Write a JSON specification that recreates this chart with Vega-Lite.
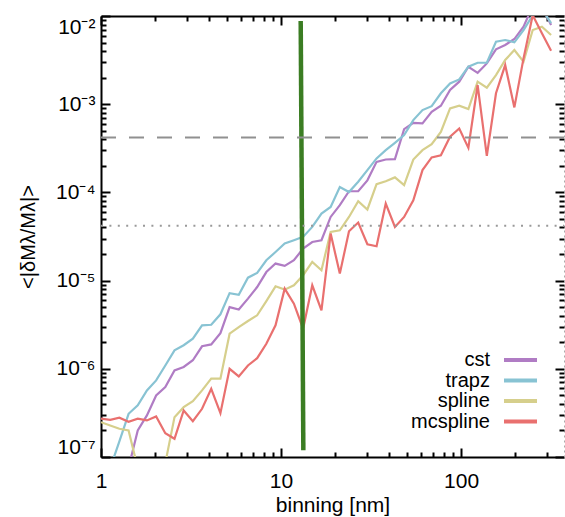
{
  "$schema": "https://vega.github.io/schema/vega-lite/v6.json",
  "width": 463,
  "height": 441,
  "autosize": {"type": "none"},
  "padding": {"left": 101, "top": 16, "right": 1, "bottom": 60},
  "config": {
    "view": {"stroke": null},
    "font": "Liberation Sans",
    "axis": {
      "grid": false,
      "domainColor": "black",
      "domainWidth": 2,
      "tickColor": "black",
      "tickWidth": 2,
      "labelFont": "Liberation Sans",
      "labelFontSize": 21,
      "labelColor": "black",
      "titleFont": "Liberation Sans",
      "titleFontSize": 21,
      "titleFontWeight": "normal",
      "titleColor": "black",
      "labelOverlap": false
    }
  },
  "datasets": {
    "series": [
      {"binning": 1, "method": "cst", "err": 2e-8},
      {"binning": 1.125, "method": "cst", "err": 2.5e-8},
      {"binning": 1.265, "method": "cst", "err": 3.5e-8},
      {"binning": 1.423, "method": "cst", "err": 7.6e-8},
      {"binning": 1.6, "method": "cst", "err": 2.0e-7},
      {"binning": 1.799, "method": "cst", "err": 2.96e-7},
      {"binning": 2.024, "method": "cst", "err": 4.99e-7},
      {"binning": 2.276, "method": "cst", "err": 6.2e-7},
      {"binning": 2.56, "method": "cst", "err": 9.6e-7},
      {"binning": 2.879, "method": "cst", "err": 1.05e-6},
      {"binning": 3.237, "method": "cst", "err": 1.25e-6},
      {"binning": 3.641, "method": "cst", "err": 1.8e-6},
      {"binning": 4.095, "method": "cst", "err": 1.89e-6},
      {"binning": 4.606, "method": "cst", "err": 2.54e-6},
      {"binning": 5.18, "method": "cst", "err": 5.0e-6},
      {"binning": 5.825, "method": "cst", "err": 4.7e-6},
      {"binning": 6.551, "method": "cst", "err": 6.25e-6},
      {"binning": 7.368, "method": "cst", "err": 8.46e-6},
      {"binning": 8.286, "method": "cst", "err": 1.25e-5},
      {"binning": 9.32, "method": "cst", "err": 1.56e-5},
      {"binning": 10.48, "method": "cst", "err": 1.47e-5},
      {"binning": 11.79, "method": "cst", "err": 1.7e-5},
      {"binning": 13.26, "method": "cst", "err": 2.31e-5},
      {"binning": 14.91, "method": "cst", "err": 2.74e-5},
      {"binning": 16.77, "method": "cst", "err": 2.87e-5},
      {"binning": 18.86, "method": "cst", "err": 5.27e-5},
      {"binning": 21.21, "method": "cst", "err": 7.16e-5},
      {"binning": 23.85, "method": "cst", "err": 1.03e-4},
      {"binning": 26.83, "method": "cst", "err": 1.03e-4},
      {"binning": 30.17, "method": "cst", "err": 1.37e-4},
      {"binning": 33.93, "method": "cst", "err": 2.22e-4},
      {"binning": 38.16, "method": "cst", "err": 2.36e-4},
      {"binning": 42.92, "method": "cst", "err": 2.38e-4},
      {"binning": 48.27, "method": "cst", "err": 5.21e-4},
      {"binning": 54.29, "method": "cst", "err": 6.15e-4},
      {"binning": 61.05, "method": "cst", "err": 6.05e-4},
      {"binning": 68.66, "method": "cst", "err": 8.2e-4},
      {"binning": 77.23, "method": "cst", "err": 9.6e-4},
      {"binning": 86.86, "method": "cst", "err": 1.45e-3},
      {"binning": 97.68, "method": "cst", "err": 1.8e-3},
      {"binning": 109.8, "method": "cst", "err": 2.66e-3},
      {"binning": 123.6, "method": "cst", "err": 2.27e-3},
      {"binning": 139, "method": "cst", "err": 2.9e-3},
      {"binning": 156.3, "method": "cst", "err": 4.19e-3},
      {"binning": 175.8, "method": "cst", "err": 4.69e-3},
      {"binning": 197.7, "method": "cst", "err": 5.48e-3},
      {"binning": 222.3, "method": "cst", "err": 7.57e-3},
      {"binning": 250, "method": "cst", "err": 1.3e-2},
      {"binning": 281.2, "method": "cst", "err": 1.28e-2},
      {"binning": 316.2, "method": "cst", "err": 7.9e-3},

      {"binning": 1, "method": "trapz", "err": 4e-8},
      {"binning": 1.125, "method": "trapz", "err": 7.5e-8},
      {"binning": 1.265, "method": "trapz", "err": 1.5e-7},
      {"binning": 1.423, "method": "trapz", "err": 3.09e-7},
      {"binning": 1.6, "method": "trapz", "err": 3.85e-7},
      {"binning": 1.799, "method": "trapz", "err": 5.69e-7},
      {"binning": 2.024, "method": "trapz", "err": 7.38e-7},
      {"binning": 2.276, "method": "trapz", "err": 1.09e-6},
      {"binning": 2.56, "method": "trapz", "err": 1.62e-6},
      {"binning": 2.879, "method": "trapz", "err": 1.85e-6},
      {"binning": 3.237, "method": "trapz", "err": 2.2e-6},
      {"binning": 3.641, "method": "trapz", "err": 3.11e-6},
      {"binning": 4.095, "method": "trapz", "err": 3.16e-6},
      {"binning": 4.606, "method": "trapz", "err": 4.15e-6},
      {"binning": 5.18, "method": "trapz", "err": 7.2e-6},
      {"binning": 5.825, "method": "trapz", "err": 6.9e-6},
      {"binning": 6.551, "method": "trapz", "err": 1.08e-5},
      {"binning": 7.368, "method": "trapz", "err": 1.22e-5},
      {"binning": 8.286, "method": "trapz", "err": 1.7e-5},
      {"binning": 9.32, "method": "trapz", "err": 2.11e-5},
      {"binning": 10.48, "method": "trapz", "err": 2.63e-5},
      {"binning": 11.79, "method": "trapz", "err": 2.87e-5},
      {"binning": 13.26, "method": "trapz", "err": 3.13e-5},
      {"binning": 14.91, "method": "trapz", "err": 4.06e-5},
      {"binning": 16.77, "method": "trapz", "err": 5.76e-5},
      {"binning": 18.86, "method": "trapz", "err": 6.84e-5},
      {"binning": 21.21, "method": "trapz", "err": 1.15e-4},
      {"binning": 23.85, "method": "trapz", "err": 1.01e-4},
      {"binning": 26.83, "method": "trapz", "err": 1.32e-4},
      {"binning": 30.17, "method": "trapz", "err": 1.79e-4},
      {"binning": 33.93, "method": "trapz", "err": 2.43e-4},
      {"binning": 38.16, "method": "trapz", "err": 3.01e-4},
      {"binning": 42.92, "method": "trapz", "err": 3.65e-4},
      {"binning": 48.27, "method": "trapz", "err": 4.46e-4},
      {"binning": 54.29, "method": "trapz", "err": 6.6e-4},
      {"binning": 61.05, "method": "trapz", "err": 8.57e-4},
      {"binning": 68.66, "method": "trapz", "err": 9.5e-4},
      {"binning": 77.23, "method": "trapz", "err": 1.33e-3},
      {"binning": 86.86, "method": "trapz", "err": 1.72e-3},
      {"binning": 97.68, "method": "trapz", "err": 1.91e-3},
      {"binning": 109.8, "method": "trapz", "err": 2.66e-3},
      {"binning": 123.6, "method": "trapz", "err": 2.95e-3},
      {"binning": 139, "method": "trapz", "err": 2.95e-3},
      {"binning": 156.3, "method": "trapz", "err": 5.1e-3},
      {"binning": 175.8, "method": "trapz", "err": 5.34e-3},
      {"binning": 197.7, "method": "trapz", "err": 5.03e-3},
      {"binning": 222.3, "method": "trapz", "err": 6.93e-3},
      {"binning": 250, "method": "trapz", "err": 1.02e-2},
      {"binning": 281.2, "method": "trapz", "err": 1.2e-2},
      {"binning": 316.2, "method": "trapz", "err": 8.3e-3},

      {"binning": 1, "method": "spline", "err": 2.48e-7},
      {"binning": 1.125, "method": "spline", "err": 2.28e-7},
      {"binning": 1.265, "method": "spline", "err": 2.09e-7},
      {"binning": 1.423, "method": "spline", "err": 2.0e-7},
      {"binning": 1.6, "method": "spline", "err": 7.5e-8},
      {"binning": 1.799, "method": "spline", "err": 3e-8},
      {"binning": 2.024, "method": "spline", "err": 4e-8},
      {"binning": 2.276, "method": "spline", "err": 8.5e-8},
      {"binning": 2.56, "method": "spline", "err": 2.83e-7},
      {"binning": 2.879, "method": "spline", "err": 3.67e-7},
      {"binning": 3.237, "method": "spline", "err": 4.3e-7},
      {"binning": 3.641, "method": "spline", "err": 5.69e-7},
      {"binning": 4.095, "method": "spline", "err": 7.73e-7},
      {"binning": 4.606, "method": "spline", "err": 7.73e-7},
      {"binning": 5.18, "method": "spline", "err": 2.5e-6},
      {"binning": 5.825, "method": "spline", "err": 2.97e-6},
      {"binning": 6.551, "method": "spline", "err": 3.48e-6},
      {"binning": 7.368, "method": "spline", "err": 4.04e-6},
      {"binning": 8.286, "method": "spline", "err": 5.86e-6},
      {"binning": 9.32, "method": "spline", "err": 8.61e-6},
      {"binning": 10.48, "method": "spline", "err": 7.9e-6},
      {"binning": 11.79, "method": "spline", "err": 8.85e-6},
      {"binning": 13.26, "method": "spline", "err": 1.15e-5},
      {"binning": 14.91, "method": "spline", "err": 1.63e-5},
      {"binning": 16.77, "method": "spline", "err": 1.31e-5},
      {"binning": 18.86, "method": "spline", "err": 3.56e-5},
      {"binning": 21.21, "method": "spline", "err": 3.72e-5},
      {"binning": 23.85, "method": "spline", "err": 5.27e-5},
      {"binning": 26.83, "method": "spline", "err": 7.94e-5},
      {"binning": 30.17, "method": "spline", "err": 6.4e-5},
      {"binning": 33.93, "method": "spline", "err": 1.24e-4},
      {"binning": 38.16, "method": "spline", "err": 1.34e-4},
      {"binning": 42.92, "method": "spline", "err": 1.48e-4},
      {"binning": 48.27, "method": "spline", "err": 1.21e-4},
      {"binning": 54.29, "method": "spline", "err": 2.36e-4},
      {"binning": 61.05, "method": "spline", "err": 3.01e-4},
      {"binning": 68.66, "method": "spline", "err": 3.52e-4},
      {"binning": 77.23, "method": "spline", "err": 4.86e-4},
      {"binning": 86.86, "method": "spline", "err": 8.95e-4},
      {"binning": 97.68, "method": "spline", "err": 9.6e-4},
      {"binning": 109.8, "method": "spline", "err": 8.8e-4},
      {"binning": 123.6, "method": "spline", "err": 1.8e-3},
      {"binning": 139, "method": "spline", "err": 1.54e-3},
      {"binning": 156.3, "method": "spline", "err": 2.14e-3},
      {"binning": 175.8, "method": "spline", "err": 3.17e-3},
      {"binning": 197.7, "method": "spline", "err": 4.11e-3},
      {"binning": 222.3, "method": "spline", "err": 3.03e-3},
      {"binning": 250, "method": "spline", "err": 6.93e-3},
      {"binning": 281.2, "method": "spline", "err": 7.57e-3},
      {"binning": 316.2, "method": "spline", "err": 6.09e-3},

      {"binning": 1, "method": "mcspline", "err": 2.72e-7},
      {"binning": 1.125, "method": "mcspline", "err": 2.64e-7},
      {"binning": 1.265, "method": "mcspline", "err": 2.79e-7},
      {"binning": 1.423, "method": "mcspline", "err": 2.51e-7},
      {"binning": 1.6, "method": "mcspline", "err": 2.72e-7},
      {"binning": 1.799, "method": "mcspline", "err": 2.6e-7},
      {"binning": 2.024, "method": "mcspline", "err": 2.88e-7},
      {"binning": 2.276, "method": "mcspline", "err": 1.86e-7},
      {"binning": 2.56, "method": "mcspline", "err": 1.61e-7},
      {"binning": 2.879, "method": "mcspline", "err": 3.37e-7},
      {"binning": 3.237, "method": "mcspline", "err": 2.55e-7},
      {"binning": 3.641, "method": "mcspline", "err": 3.52e-7},
      {"binning": 4.095, "method": "mcspline", "err": 5.94e-7},
      {"binning": 4.606, "method": "mcspline", "err": 3.14e-7},
      {"binning": 5.18, "method": "mcspline", "err": 1.0e-6},
      {"binning": 5.825, "method": "mcspline", "err": 8.2e-7},
      {"binning": 6.551, "method": "mcspline", "err": 1.09e-6},
      {"binning": 7.368, "method": "mcspline", "err": 1.32e-6},
      {"binning": 8.286, "method": "mcspline", "err": 1.92e-6},
      {"binning": 9.32, "method": "mcspline", "err": 3.11e-6},
      {"binning": 10.48, "method": "mcspline", "err": 8.1e-6},
      {"binning": 11.79, "method": "mcspline", "err": 5.48e-6},
      {"binning": 13.26, "method": "mcspline", "err": 2.85e-6},
      {"binning": 14.91, "method": "mcspline", "err": 8.85e-6},
      {"binning": 16.77, "method": "mcspline", "err": 4.6e-6},
      {"binning": 18.86, "method": "mcspline", "err": 3.41e-5},
      {"binning": 21.21, "method": "mcspline", "err": 1.2e-5},
      {"binning": 23.85, "method": "mcspline", "err": 3.63e-5},
      {"binning": 26.83, "method": "mcspline", "err": 4.55e-5},
      {"binning": 30.17, "method": "mcspline", "err": 2.58e-5},
      {"binning": 33.93, "method": "mcspline", "err": 2.45e-5},
      {"binning": 38.16, "method": "mcspline", "err": 7.48e-5},
      {"binning": 42.92, "method": "mcspline", "err": 4.06e-5},
      {"binning": 48.27, "method": "mcspline", "err": 5.27e-5},
      {"binning": 54.29, "method": "mcspline", "err": 8.15e-5},
      {"binning": 61.05, "method": "mcspline", "err": 1.79e-4},
      {"binning": 68.66, "method": "mcspline", "err": 2.49e-4},
      {"binning": 77.23, "method": "mcspline", "err": 2.64e-4},
      {"binning": 86.86, "method": "mcspline", "err": 4.27e-4},
      {"binning": 97.68, "method": "mcspline", "err": 5.31e-4},
      {"binning": 109.8, "method": "mcspline", "err": 3.2e-4},
      {"binning": 123.6, "method": "mcspline", "err": 1.65e-3},
      {"binning": 139, "method": "mcspline", "err": 2.6e-4},
      {"binning": 156.3, "method": "mcspline", "err": 1.33e-3},
      {"binning": 175.8, "method": "mcspline", "err": 2.78e-3},
      {"binning": 197.7, "method": "mcspline", "err": 9.2e-4},
      {"binning": 222.3, "method": "mcspline", "err": 3.31e-3},
      {"binning": 250, "method": "mcspline", "err": 1.02e-2},
      {"binning": 281.2, "method": "mcspline", "err": 6.37e-3},
      {"binning": 316.2, "method": "mcspline", "err": 4.04e-3}
    ],
    "marker": [
      {"binning": 12.86, "err": 8.8e-3},
      {"binning": 13.3, "err": 1.19e-7}
    ],
    "dashed": [
      {"binning": 1, "err": 4.2e-4},
      {"binning": 373, "err": 4.2e-4}
    ],
    "dotted": [
      {"binning": 1, "err": 4.2e-5},
      {"binning": 373, "err": 4.2e-5}
    ]
  },
  "layer": [
    {
      "data": {"name": "series"},
      "mark": {"type": "line", "clip": true, "strokeWidth": 2.2},
      "encoding": {
        "x": {
          "field": "binning", "type": "quantitative",
          "scale": {"type": "log", "domain": [1, 373], "nice": false},
          "axis": {
            "orient": "bottom", "values": [1, 10, 100], "tickSize": -9,
            "labelExpr": "datum.value == 1 ? '1' : datum.value == 10 ? '10' : '100'",
            "labelFlush": false, "labelPadding": 22,
            "title": "binning [nm]", "titlePadding": 3
          }
        },
        "y": {
          "field": "err", "type": "quantitative",
          "scale": {"type": "log", "domain": [1e-7, 1e-2], "nice": false},
          "axis": {
            "orient": "left", "values": [1e-7, 1e-6, 1e-5, 1e-4, 1e-3, 1e-2], "tickSize": -9,
            "labelExpr": "['10⁻⁷','10⁻⁶','10⁻⁵','10⁻⁴','10⁻³','10⁻²'][round(log(datum.value)/LN10)+7]",
            "labelPadding": 15, "labelFlush": true,
            "title": "<|δMλ/Mλ|>", "titlePadding": 17, "titleFontSize": 20
          }
        },
        "color": {
          "field": "method", "type": "nominal",
          "sort": ["cst", "trapz", "spline", "mcspline"],
          "scale": {"domain": ["cst", "trapz", "spline", "mcspline"], "range": ["#b07cc4", "#88c3d3", "#d6cf8c", "#e9706f"]},
          "legend": {
            "orient": "none", "legendX": 409.5, "legendY": 334, "title": null,
            "symbolType": "M-3.3,0H3.3", "symbolSize": 100, "symbolStrokeWidth": 4,
            "labelFont": "Liberation Sans", "labelFontSize": 20, "labelColor": "black",
            "labelAlign": "right", "labelOffset": -40.5, "rowPadding": 0.5
          }
        }
      }
    },
    {
      "data": {"name": "marker"},
      "mark": {"type": "line", "clip": true, "strokeWidth": 4.5, "color": "#3b7d23"},
      "encoding": {
        "x": {
          "field": "binning", "type": "quantitative",
          "scale": {"type": "log", "domain": [1, 373], "nice": false},
          "axis": {"orient": "bottom", "values": [2,3,4,5,6,7,8,9,20,30,40,50,60,70,80,90,200,300], "tickSize": -5, "labels": false, "domain": false, "title": null}
        },
        "y": {
          "field": "err", "type": "quantitative",
          "scale": {"type": "log", "domain": [1e-7, 1e-2], "nice": false},
          "axis": {"orient": "left", "values": [2e-7,3e-7,4e-7,5e-7,6e-7,7e-7,8e-7,9e-7,2e-6,3e-6,4e-6,5e-6,6e-6,7e-6,8e-6,9e-6,2e-5,3e-5,4e-5,5e-5,6e-5,7e-5,8e-5,9e-5,2e-4,3e-4,4e-4,5e-4,6e-4,7e-4,8e-4,9e-4,2e-3,3e-3,4e-3,5e-3,6e-3,7e-3,8e-3,9e-3], "tickSize": -5, "labels": false, "domain": false, "title": null}
        }
      }
    },
    {
      "data": {"name": "dashed"},
      "mark": {"type": "line", "clip": true, "strokeWidth": 2, "color": "#909090", "strokeDash": [15, 13]},
      "encoding": {
        "x": {
          "field": "binning", "type": "quantitative",
          "scale": {"type": "log", "domain": [1, 373], "nice": false},
          "axis": {"orient": "top", "values": [1, 10, 100], "tickSize": -9, "labels": false, "title": null}
        },
        "y": {
          "field": "err", "type": "quantitative",
          "scale": {"type": "log", "domain": [1e-7, 1e-2], "nice": false},
          "axis": {"orient": "right", "values": [1e-7, 1e-6, 1e-5, 1e-4, 1e-3, 1e-2], "tickSize": -9, "labels": false, "title": null, "domainColor": "#aaaaaa", "domainWidth": 1, "domainDash": [2, 3]}
        }
      }
    },
    {
      "data": {"name": "dotted"},
      "mark": {"type": "line", "clip": true, "strokeWidth": 2, "color": "#999999", "strokeDash": [2, 6.4]},
      "encoding": {
        "x": {
          "field": "binning", "type": "quantitative",
          "scale": {"type": "log", "domain": [1, 373], "nice": false},
          "axis": {"orient": "top", "values": [2,3,4,5,6,7,8,9,20,30,40,50,60,70,80,90,200,300], "tickSize": -5, "labels": false, "domain": false, "title": null}
        },
        "y": {
          "field": "err", "type": "quantitative",
          "scale": {"type": "log", "domain": [1e-7, 1e-2], "nice": false},
          "axis": {"orient": "right", "values": [2e-7,3e-7,4e-7,5e-7,6e-7,7e-7,8e-7,9e-7,2e-6,3e-6,4e-6,5e-6,6e-6,7e-6,8e-6,9e-6,2e-5,3e-5,4e-5,5e-5,6e-5,7e-5,8e-5,9e-5,2e-4,3e-4,4e-4,5e-4,6e-4,7e-4,8e-4,9e-4,2e-3,3e-3,4e-3,5e-3,6e-3,7e-3,8e-3,9e-3], "tickSize": -5, "labels": false, "domain": false, "title": null}
        }
      }
    }
  ],
  "resolve": {"axis": {"x": "independent", "y": "independent"}}
}
